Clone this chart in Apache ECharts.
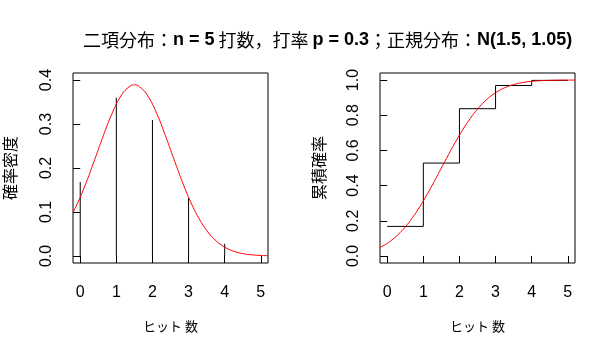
<!DOCTYPE html>
<html>
<head>
<meta charset="utf-8">
<script src="https://cdn.jsdelivr.net/npm/echarts@6/dist/echarts.min.js"></script>
<style>
  html, body { margin: 0; padding: 0; background: #fff; }
  #chart { width: 613px; height: 355px; }
</style>
</head>
<body>
<div id="chart"></div>
<script>
// 二項分布 n=5, p=0.3
const hits = [0, 1, 2, 3, 4, 5];
const pmf = [0.168, 0.360, 0.309, 0.132, 0.028, 0.002];
const cdf = [0.168, 0.528, 0.837, 0.969, 0.998, 1.0];
// 正規分布 N(1.5, 1.05)
const xs = [-0.2, 0, 0.2, 0.4, 0.6, 0.8, 1.0, 1.2, 1.4, 1.5, 1.6, 1.8, 2.0, 2.2, 2.4, 2.6, 2.8,
  3.0, 3.2, 3.4, 3.6, 3.8, 4.0, 4.2, 4.4, 4.6, 4.8, 5.0, 5.2];
const normPdf = [0.0983, 0.1333, 0.1741, 0.2188, 0.2647, 0.3083, 0.3456, 0.3730, 0.3875, 0.3893,
  0.3875, 0.3730, 0.3456, 0.3083, 0.2647, 0.2188, 0.1741, 0.1333, 0.0983, 0.0698, 0.0477,
  0.0314, 0.0199, 0.0121, 0.0071, 0.0040, 0.0022, 0.0011, 0.0006];
const normCdf = [0.0486, 0.0716, 0.1023, 0.1415, 0.1899, 0.2473, 0.3128, 0.3848, 0.4611, 0.5,
  0.5389, 0.6152, 0.6872, 0.7527, 0.8101, 0.8585, 0.8977, 0.9284, 0.9514, 0.9681, 0.9798,
  0.9876, 0.9927, 0.9958, 0.9977, 0.9988, 0.9994, 0.9997, 0.9999];
const xTicks = [0, 1, 2, 3, 4, 5];
const yTicksL = [0, 0.1, 0.2, 0.3, 0.4];
const yTicksR = [0, 0.2, 0.4, 0.6, 0.8, 1.0];

const numFont = '"Liberation Sans", Arial, sans-serif';
const jpFont = '"Noto Sans CJK JP", sans-serif';

function xAxisOpt(idx) {
  return {
    type: 'value', gridIndex: idx, min: -0.2, max: 5.2,
    name: 'ヒット 数', nameLocation: 'middle', nameGap: 57,
    nameTextStyle: { fontFamily: jpFont, fontSize: 13, color: '#000' },
    axisLine: { show: false },
    axisTick: { show: true, length: 7, customValues: xTicks, lineStyle: { color: '#000' } },
    axisLabel: { customValues: xTicks, margin: 22, fontFamily: numFont, fontSize: 16, color: '#000',
      formatter: v => String(v) },
    splitLine: { show: false }
  };
}
function yAxisOpt(idx, min, max, ticks, name, gap) {
  return {
    type: 'value', gridIndex: idx, min: min, max: max,
    name: name, nameLocation: 'middle', nameGap: gap,
    nameTextStyle: { fontFamily: jpFont, fontSize: 16, color: '#000' },
    axisLine: { show: false },
    axisTick: { show: true, length: 7, customValues: ticks, lineStyle: { color: '#000' } },
    axisLabel: { customValues: ticks, rotate: 90, margin: 18, fontFamily: numFont, fontSize: 16, color: '#000',
      formatter: v => v.toFixed(1) },
    splitLine: { show: false }
  };
}

const chart = echarts.init(document.getElementById('chart'));
chart.setOption({
  animation: false,
  backgroundColor: '#fff',
  title: {
    left: 78, top: 26,
    text: '{j|二項分布：}{b|n = 5}{j| 打数，打率 }{b|p = 0.3}{j|；正規分布：}{b|N(1.5, 1.05)}',
    textStyle: {
      rich: {
        j: { fontFamily: jpFont, fontSize: 18, fontWeight: 'normal', color: '#000' },
        b: { fontFamily: numFont, fontSize: 18, fontWeight: 'bold', color: '#000' }
      }
    }
  },
  grid: [
    { left: 73, top: 73, width: 195, height: 190, show: true, borderColor: '#000', borderWidth: 1, backgroundColor: 'transparent' },
    { left: 380, top: 73, width: 195, height: 190, show: true, borderColor: '#000', borderWidth: 1, backgroundColor: 'transparent' }
  ],
  xAxis: [xAxisOpt(0), xAxisOpt(1)],
  yAxis: [
    yAxisOpt(0, -0.016, 0.416, yTicksL, '確率密度', 55),
    yAxisOpt(1, -0.04, 1.04, yTicksR, '累積確率', 53)
  ],
  series: [
    {
      type: 'bar', xAxisIndex: 0, yAxisIndex: 0, barWidth: 1,
      itemStyle: { color: '#000' },
      data: hits.map((x, i) => [x, pmf[i]])
    },
    {
      type: 'line', xAxisIndex: 0, yAxisIndex: 0, showSymbol: false, smooth: 0.2,
      lineStyle: { color: '#ff0000', width: 1 },
      data: xs.map((x, i) => [x, normPdf[i]])
    },
    {
      type: 'line', xAxisIndex: 1, yAxisIndex: 1, showSymbol: false, step: 'end',
      lineStyle: { color: '#000', width: 1 },
      data: hits.map((x, i) => [x, cdf[i]])
    },
    {
      type: 'line', xAxisIndex: 1, yAxisIndex: 1, showSymbol: false, smooth: 0.2,
      lineStyle: { color: '#ff0000', width: 1 },
      data: xs.map((x, i) => [x, normCdf[i]])
    }
  ]
});
</script>
</body>
</html>
